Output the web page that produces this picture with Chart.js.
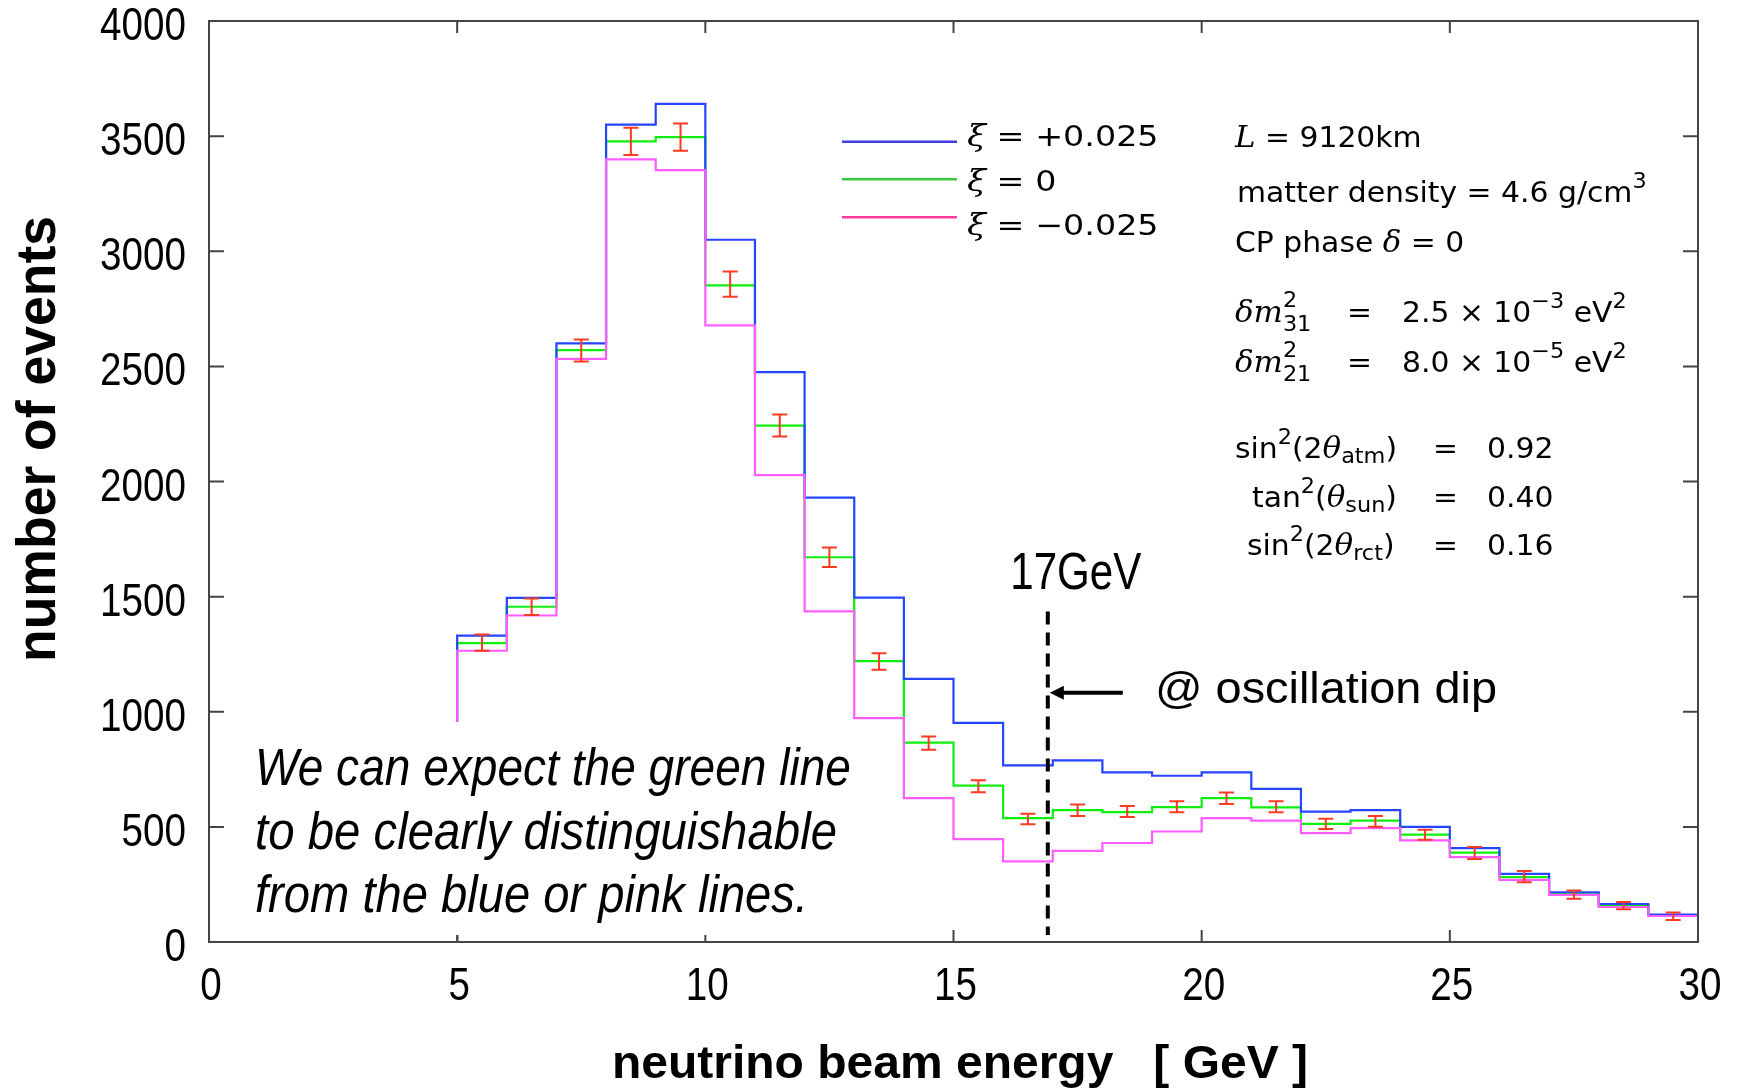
<!DOCTYPE html>
<html>
<head>
<meta charset="utf-8">
<script src="https://cdn.jsdelivr.net/npm/chart.js@4/dist/chart.umd.min.js"></script>
<style>
    html, body { margin: 0; padding: 0; background: #fff; }
</style>
</head>
<body>
<canvas id="spectrumChart" width="1738" height="1090"></canvas>
<script>
// Histogram bin edges (GeV)
const energyEdges = [5, 6, 7, 8, 9, 10, 11, 12, 13, 14, 15, 16, 17, 18, 19, 20, 21, 22, 23, 24, 25, 26, 27, 28, 29, 30];

// Events per bin for each xi
const eventsPlus = [1331, 1495, 2600, 3550, 3640, 3050, 2475, 1930, 1496, 1143, 952, 767, 789, 737, 722, 737, 665, 566, 573, 500, 408, 296, 216, 165, 119];
const eventsZero = [1298, 1456, 2571, 3477, 3496, 2852, 2243, 1671, 1220, 866, 679, 538, 573, 564, 586, 625, 585, 513, 527, 466, 388, 282, 210, 158, 116];
const eventsMinus = [1265, 1418, 2533, 3399, 3352, 2678, 2028, 1436, 972, 625, 447, 350, 396, 430, 480, 538, 527, 473, 495, 441, 369, 270, 205, 152, 113];

// Simulated data points with error bars
const pointEnergy = [5.5, 6.5, 7.5, 8.5, 9.5, 10.5, 11.5, 12.5, 13.5, 14.5, 15.5, 16.5, 17.5, 18.5, 19.5, 20.5, 21.5, 22.5, 23.5, 24.5, 25.5, 26.5, 27.5, 28.5, 29.5];
const pointEvents = [1300, 1456, 2569, 3477, 3496, 2857, 2243, 1671, 1218, 864, 676, 534, 572, 567, 587, 624, 587, 513, 524, 466, 387, 284, 206, 158, 112];
const pointErrors = [35, 36, 48, 59, 59, 55, 48, 42, 36, 29, 26, 23, 25, 24, 24, 25, 24, 22, 23, 22, 26, 24, 18, 16, 16];

// Oscillation dip marker
const dipEnergy = 16.9;
const dipLineTop = 1435;
const dipLineBottom = 30;
const arrowEvents = 1082;

const legendLabels = ['+0.025', '0', '\u22120.025'];
const noteLines = ['We can expect the green line', 'to be clearly distinguishable', 'from the blue or pink lines.'];

const NARROW = '"Liberation Sans Narrow", "Liberation Sans", Arial, sans-serif';
const SANS = '"DejaVu Sans", sans-serif';

function histPoints(values) {
    const pts = [{ x: energyEdges[0], y: 0 }];
    values.forEach((v, i) => pts.push({ x: energyEdges[i], y: v }));
    pts.push({ x: energyEdges[energyEdges.length - 1], y: values[values.length - 1] });
    return pts;
}

// text squeezed/stretched to a given width
function fitText(ctx, text, x, y, width, font, align) {
    ctx.save();
    ctx.font = font;
    const s = width / ctx.measureText(text).width;
    ctx.translate(x, y);
    ctx.scale(s, 1);
    ctx.textAlign = align || 'left';
    ctx.textBaseline = 'alphabetic';
    ctx.fillText(text, 0, 0);
    ctx.restore();
}

// narrow text with a fixed horizontal squeeze
function narrowText(ctx, text, x, y, font, align) {
    ctx.save();
    ctx.font = font;
    ctx.translate(x, y);
    ctx.scale(0.84, 1);
    ctx.textAlign = align;
    ctx.textBaseline = 'alphabetic';
    ctx.fillText(text, 0, 0);
    ctx.restore();
}

// draw a run of pieces: [text, font, dy, xAbs, noAdvance]
function richText(ctx, x, y, parts, sx) {
    ctx.save();
    ctx.translate(x, y);
    ctx.scale(sx, 1);
    ctx.textAlign = 'left';
    ctx.textBaseline = 'alphabetic';
    let cx = 0;
    parts.forEach(p => {
        const [t, f, dy, xAbs, stay] = p;
        if (xAbs !== undefined && xAbs !== null) cx = (xAbs - x) / sx;
        ctx.font = f;
        ctx.fillText(t, cx, dy || 0);
        if (!stay) cx += ctx.measureText(t).width;
    });
    ctx.restore();
}

const errorBarPlugin = {
    id: 'errorBars',
    afterDatasetsDraw(chart) {
        const { ctx, scales: { x, y } } = chart;
        ctx.save();
        ctx.strokeStyle = '#ff3a22';
        ctx.lineWidth = 2;
        pointEnergy.forEach((e, i) => {
            const px = x.getPixelForValue(e);
            const top = y.getPixelForValue(pointEvents[i] + pointErrors[i]);
            const bot = y.getPixelForValue(pointEvents[i] - pointErrors[i]);
            ctx.beginPath();
            ctx.moveTo(px, top); ctx.lineTo(px, bot);
            ctx.moveTo(px - 7.5, top); ctx.lineTo(px + 7.5, top);
            ctx.moveTo(px - 7.5, bot); ctx.lineTo(px + 7.5, bot);
            ctx.stroke();
        });
        ctx.restore();
    }
};

const decorPlugin = {
    id: 'decor',
    afterDraw(chart) {
        const { ctx, chartArea: a, scales: { x, y } } = chart;
        ctx.save();

        // frame with inward ticks on all sides
        ctx.strokeStyle = '#444';
        ctx.lineWidth = 2;
        ctx.strokeRect(a.left, a.top, a.right - a.left, a.bottom - a.top);
        ctx.beginPath();
        y.ticks.forEach(t => {
            if (t.value <= 0 || t.value >= 4000) return;
            const py = y.getPixelForValue(t.value);
            ctx.moveTo(a.left, py); ctx.lineTo(a.left + 15, py);
            ctx.moveTo(a.right, py); ctx.lineTo(a.right - 15, py);
        });
        x.ticks.forEach(t => {
            if (t.value <= 0 || t.value >= 30) return;
            const px = x.getPixelForValue(t.value);
            ctx.moveTo(px, a.bottom); ctx.lineTo(px, a.bottom - 12);
            ctx.moveTo(px, a.top); ctx.lineTo(px, a.top + 12);
        });
        ctx.stroke();

        // tick labels
        ctx.fillStyle = '#000';
        y.ticks.forEach(t => {
            narrowText(ctx, String(t.value), a.left - 23, y.getPixelForValue(t.value) + 19, '46px ' + NARROW, 'right');
        });
        x.ticks.forEach(t => {
            narrowText(ctx, String(t.value), x.getPixelForValue(t.value) + 2, 1000, '46px ' + NARROW, 'center');
        });

        // note box
        ctx.fillStyle = '#fff';
        ctx.fillRect(229, 722, 643, 213);
        ctx.fillStyle = '#000';
        const noteWidths = [596, 582, 553];
        noteLines.forEach((t, i) => {
            fitText(ctx, t, 255, 785 + i * 63.5, noteWidths[i], 'italic 51px ' + NARROW);
        });

        // dashed marker
        const dx = x.getPixelForValue(dipEnergy);
        ctx.strokeStyle = '#000';
        ctx.lineWidth = 4;
        ctx.setLineDash([13, 8]);
        ctx.beginPath();
        ctx.moveTo(dx, y.getPixelForValue(dipLineTop));
        ctx.lineTo(dx, y.getPixelForValue(dipLineBottom));
        ctx.stroke();
        ctx.setLineDash([]);

        // arrow
        const ay = y.getPixelForValue(arrowEvents);
        ctx.beginPath();
        ctx.moveTo(dx + 75, ay); ctx.lineTo(dx + 14, ay);
        ctx.stroke();
        ctx.beginPath();
        ctx.moveTo(dx + 2, ay); ctx.lineTo(dx + 16, ay - 7); ctx.lineTo(dx + 16, ay + 7);
        ctx.closePath(); ctx.fill();

        fitText(ctx, '17GeV', dx + 28, 589, 131, '52px ' + NARROW, 'center');
        fitText(ctx, '@ oscillation dip', 1155, 703, 342, '45px "Liberation Sans", Arial, sans-serif');

        // axis titles
        fitText(ctx, 'neutrino beam energy   [ GeV ]', 960, 1078, 696, 'bold 47px ' + NARROW, 'center');
        ctx.save();
        ctx.translate(55, 439);
        ctx.rotate(-Math.PI / 2);
        fitText(ctx, 'number of events', 0, 0, 446, 'bold 56px ' + NARROW, 'center');
        ctx.restore();

        // legend
        const legendColors = ['#3c3ce0', '#3cc83c', '#ff3c9c'];
        const legendY = [141.7, 179.3, 217.3];
        const legendBase = [146, 191, 235];
        legendLabels.forEach((lab, i) => {
            ctx.strokeStyle = legendColors[i];
            ctx.lineWidth = 2.5;
            ctx.beginPath();
            ctx.moveTo(842, legendY[i]); ctx.lineTo(957, legendY[i]);
            ctx.stroke();
            richText(ctx, 967, legendBase[i], [
                ['\u03be', 'italic 30px "DejaVu Serif", serif'],
                [' = ', '29px ' + SANS],
                [lab, '29px ' + SANS]
            ], 1.15);
        });

        // parameter block
        const f = '28px ' + SANS, fs = '21px ' + SANS, fi = 'italic 29px "DejaVu Serif", serif';
        const sx = 1.065;
        richText(ctx, 1235, 147, [['L', fi], [' = 9120km', f]], sx);
        richText(ctx, 1237, 202, [['matter density = 4.6 g/cm', f], ['3', fs, -14]], sx);
        richText(ctx, 1235, 252, [['CP phase ', f], ['\u03b4', fi], [' = 0', f]], sx);
        const dm = [['31', '2.5', '\u22123', 322], ['21', '8.0', '\u22125', 372]];
        dm.forEach(([sub, val, pw, by]) => {
            richText(ctx, 1235, by, [
                ['\u03b4m', fi], ['2', fs, -15, null, true], [sub, fs, 9],
                ['=', f, 0, 1347], [val + ' \u00d7 10', f, 0, 1402], [pw, fs, -14], [' eV', f], ['2', fs, -14]
            ], sx);
        });
        const mix = [
            [1235, 458, 'sin', '(2', 'atm', '0.92'],
            [1252, 507, 'tan', '(', 'sun', '0.40'],
            [1247, 555, 'sin', '(2', 'rct', '0.16']
        ];
        mix.forEach(([mx, by, fn, open, sub, val]) => {
            richText(ctx, mx, by, [
                [fn, f], ['2', fs, -14], [open, f], ['\u03b8', fi], [sub, fs, 5], [')', f],
                ['=', f, 0, 1433], [val, f, 0, 1487]
            ], sx);
        });

        ctx.restore();
    }
};

const ctx = document.getElementById('spectrumChart').getContext('2d');
const chart = new Chart(ctx, {
    type: 'line',
    data: {
        datasets: [
            { label: '\u03be = -0.025', data: histPoints(eventsMinus), borderColor: '#ff5cff' },
            { label: '\u03be = +0.025', data: histPoints(eventsPlus), borderColor: '#2545ff' },
            { label: '\u03be = 0', data: histPoints(eventsZero), borderColor: '#10ee10' }
        ].map(ds => Object.assign(ds, { stepped: true, borderWidth: 2.2, pointRadius: 0, fill: false, tension: 0 }))
    },
    options: {
        responsive: false,
        animation: false,
        layout: { padding: { top: 21, right: 40, bottom: 0, left: 0 } },
        plugins: { legend: { display: false }, tooltip: { enabled: false } },
        scales: {
            x: {
                type: 'linear', min: 0, max: 30,
                grid: { display: false, drawTicks: false },
                border: { display: false },
                ticks: { display: false, stepSize: 5 },
                afterFit: s => { s.height = 148; }
            },
            y: {
                min: 0, max: 4000,
                grid: { display: false, drawTicks: false },
                border: { display: false },
                ticks: { display: false, stepSize: 500 },
                afterFit: s => { s.width = 209; }
            }
        }
    },
    plugins: [errorBarPlugin, decorPlugin]
});
</script>
</body>
</html>
